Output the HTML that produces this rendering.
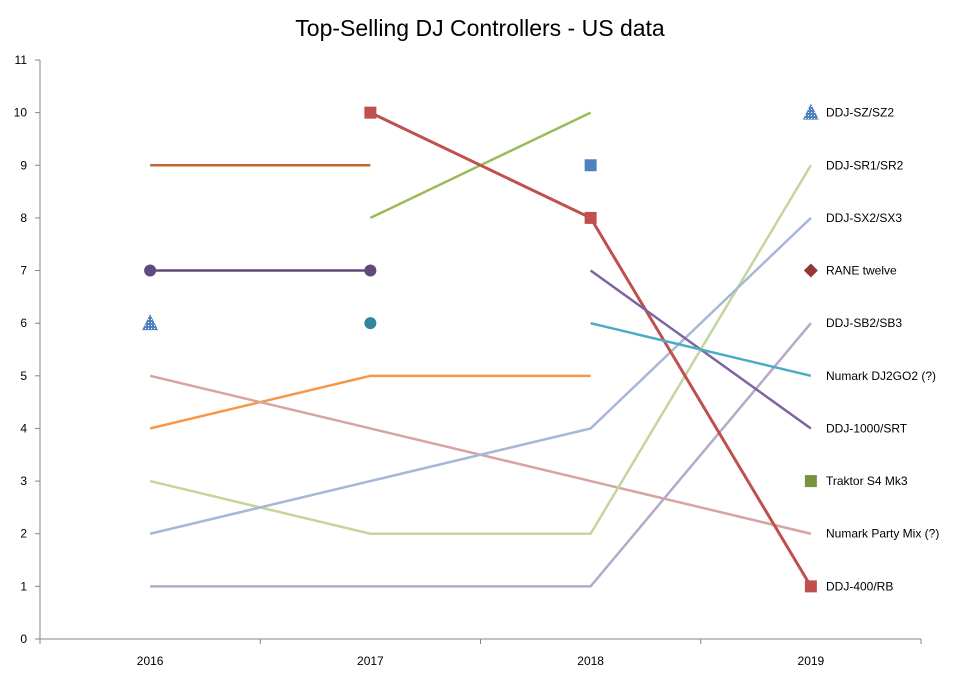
<!DOCTYPE html>
<html><head><meta charset="utf-8"><style>
body{margin:0;background:#fff;}
svg text{font-family:"Liberation Sans",sans-serif;}
</style></head><body>
<svg id="chart" width="978" height="679" xmlns="http://www.w3.org/2000/svg">
<defs>
<pattern id="dots" width="3" height="3" patternUnits="userSpaceOnUse"><rect width="3" height="3" fill="#4f81bd"/><rect x="1" y="1" width="1" height="1" fill="#fff"/></pattern>
</defs>
<text x="480" y="36" text-anchor="middle" font-size="23" fill="#000">Top-Selling DJ Controllers - US data</text>
<g id="axes"></g><g id="series"></g><g id="labels"></g>
</svg>
<script>
const years = ["2016","2017","2018","2019"];
const yTicks = [0,1,2,3,4,5,6,7,8,9,10,11];
const sBrown = [9,9,null,null];
const sPurpleDots = [7,7,null,null];
const sOrange = [4,5,5,null];
const sPartyMix = [5,4,3,2];
const sSR = [3,2,2,9];
const sSX = [2,3,4,8];
const sSB = [1,1,1,6];
const sTraktor = [null,8,10,null];
const s400 = [null,10,8,1];
const s1000 = [null,null,7,4];
const sDJ2GO2 = [null,null,6,5];
const ptSZ = [6,null,null,10];
const ptTeal = [null,6,null,null];
const ptBlueSq = [null,null,9,null];
const ptTraktor = [null,null,null,3];
const ptRane = [null,null,null,7];
const labelNames = ["DDJ-SZ/SZ2","DDJ-SR1/SR2","DDJ-SX2/SX3","RANE twelve","DDJ-SB2/SB3","Numark DJ2GO2 (?)","DDJ-1000/SRT","Traktor S4 Mk3","Numark Party Mix (?)","DDJ-400/RB"];
const labelValues = [10,9,8,7,6,5,4,3,2,1];

const NS="http://www.w3.org/2000/svg";
const X0=40,X1=921,Y0=639,Y1=60;
const xs=i=>X0+(X1-X0)*(i+0.5)/years.length;
const ys=v=>Y0-(Y0-Y1)*v/11;
function mk(tag,attrs,parent){const e=document.createElementNS(NS,tag);for(const k in attrs)e.setAttribute(k,attrs[k]);parent.appendChild(e);return e;}
const axes=document.getElementById('axes'),ser=document.getElementById('series'),lab=document.getElementById('labels');
let a=mk('line',{x1:X0,y1:Y1,x2:X0,y2:Y0,stroke:'#868686'},axes);


a=mk('line',{x1:X0,y1:Y0,x2:X1,y2:Y0,stroke:'#868686'},axes);


yTicks.forEach(v=>{
 mk('line',{x1:35,x2:X0,y1:ys(v),y2:ys(v),stroke:'#868686'},axes);
 const t=mk('text',{x:27,y:ys(v)+4,'text-anchor':'end','font-size':12,fill:'#000'},axes);t.textContent=v;
 
 
});
for(let i=0;i<=years.length;i++){const x=X0+(X1-X0)*i/years.length;mk('line',{x1:x,x2:x,y1:Y0,y2:Y0+5,stroke:'#868686'},axes);}
years.forEach((y,i)=>{const t=mk('text',{x:xs(i),y:665,'text-anchor':'middle','font-size':12,fill:'#000'},axes);t.textContent=y;
 
 });
function line(data,color,name,w){
 const pts=[];data.forEach((v,i)=>{if(v!==null)pts.push(xs(i)+','+ys(v));});
 const p=mk('polyline',{points:pts.join(' '),fill:'none',stroke:color,'stroke-width':w||2.5},ser);
 
 
}
function marks(data,shape,fill,name){
 data.forEach((v,i)=>{if(v===null)return;const x=xs(i),y=ys(v);let e;
  if(shape==='circle')e=mk('circle',{cx:x,cy:y,r:6,fill:fill},ser);
  else if(shape==='square')e=mk('rect',{x:x-6,y:y-6,width:12,height:12,fill:fill},ser);
  else if(shape==='tri')e=mk('polygon',{points:`${x},${y-9} ${x-8},${y+7} ${x+8},${y+7}`,fill:fill},ser);
  else e=mk('polygon',{points:`${x},${y-7} ${x+7},${y} ${x},${y+7} ${x-7},${y}`,fill:fill},ser);
  
  });
}
line(sBrown,'#c0692e','line-brown');
line(sPurpleDots,'#604a7b','line-purple-2016');
line(sOrange,'#f79646','line-orange');
line(sPartyMix,'#d9a3a2','line-numark-party-mix');
line(sSR,'#c3d69b','line-ddj-sr');
line(sSX,'#a5b8d6','line-ddj-sx');
line(sSB,'#b6a9c9','line-ddj-sb');
line(sTraktor,'#9bbb59','line-traktor');
line(s400,'#c0504d','line-ddj-400',3);
line(s1000,'#8064a2','line-ddj-1000');
line(sDJ2GO2,'#4bacc6','line-dj2go2');
marks(sPurpleDots,'circle','#604a7b','marker-purple');
marks(ptTeal,'circle','#31859c','marker-teal');
marks(ptSZ,'tri','url(#dots)','marker-ddj-sz');
marks(s400,'square','#c0504d','marker-ddj-400');
marks(ptBlueSq,'square','#4f81bd','marker-blue-square');
marks(ptTraktor,'square','#77933c','marker-traktor');
marks(ptRane,'diamond','#953735','marker-rane');
labelNames.forEach((n,i)=>{const t=mk('text',{x:826,y:ys(labelValues[i])+4,'font-size':12,fill:'#000'},lab);t.textContent=n;
 
 });
</script>
</body></html>
